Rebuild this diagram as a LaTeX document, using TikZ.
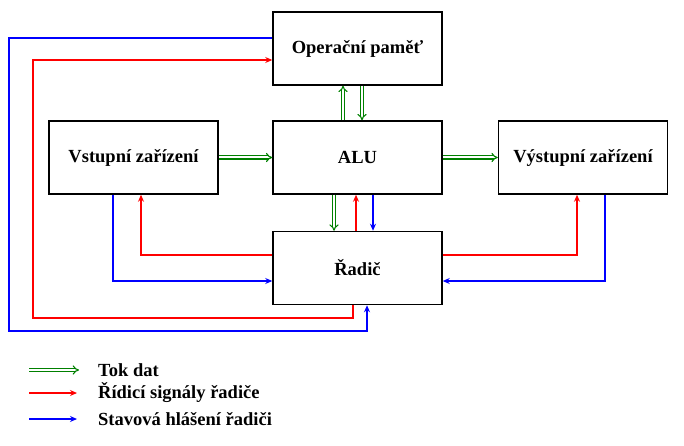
\documentclass[tikz,border=0pt]{standalone}
\usepackage{fontspec}
\setmainfont{Liberation Serif}
\usetikzlibrary{arrows.meta, positioning, calc}
\tikzset{%
	unit/.style={draw, line width=1.5pt, rectangle, minimum width=169pt, minimum height=73pt,%
		inner sep=0pt, font=\bfseries\fontsize{18.5}{22}\selectfont},
	legtext/.style={anchor=west, inner sep=0pt, font=\bfseries\fontsize{18.5}{22}\selectfont},
	data/.style={draw=green!50!black, double=white, double distance=2pt, line width=1.1pt, -{Implies}},
	ctrl/.style={draw=red, line width=1.5pt, -{Stealth[length=7pt, width=6pt]}},
	stat/.style={draw=blue, line width=1.5pt, -{Stealth[length=7pt, width=6pt]}}
}
\begin{document}
\begin{tikzpicture}[x=1pt, y=-1pt]
	\useasboundingbox (0,0) rectangle (684,446);
	\node[unit] (op) at (357.5,48.5) {Operační paměť};
	\node[unit] (alu) at (357.5,157.5) {ALU};
	\node[unit] (vst) at (133.5,157.5) {Vstupní zařízení};
	\node[unit] (vys) at (583,157.5) {Výstupní zařízení};
	\node[unit] (ctl) at (357.5,268) {Řadič};
	\coordinate (outerB) at (9,331);
	\coordinate (outerR) at (33,318);

	% data flow
	\draw[data] (vst.east) to (alu.west);
	\draw[data] (alu.east) to (vys.west);
	\draw[data] ([xshift=-14.5pt]alu.north) to ([xshift=-14.5pt]op.south);
	\draw[data] ([xshift=4.5pt]op.south) to ([xshift=4.5pt]alu.north);
	\draw[data] ([xshift=-23.5pt]alu.south) to ([xshift=-23.5pt]ctl.north);

	% control signals
	\draw[ctrl] ([xshift=-1.5pt]ctl.north) to ([xshift=-1.5pt]alu.south);
	\draw[ctrl] ([yshift=13pt]ctl.west) -| ([xshift=7.5pt]vst.south);
	\draw[ctrl] ([yshift=13pt]ctl.east) -| ([xshift=-6pt]vys.south);
	\draw[ctrl] ([xshift=-4.5pt]ctl.south) |- (outerR) |- ([yshift=-11.5pt]op.west);

	% status reports
	\draw[stat] ([xshift=15.5pt]alu.south) to ([xshift=15.5pt]ctl.north);
	\draw[stat] ([xshift=-20.5pt]vst.south) |- ([yshift=-13pt]ctl.west);
	\draw[stat] ([xshift=22pt]vys.south) |- ([yshift=-13pt]ctl.east);
	\draw[stat] ([yshift=10.5pt]op.west) -| (outerB) -| ([xshift=9.5pt]ctl.south);

	% legend
	\coordinate (g1) at (29,370);
	\coordinate (g2) at (79,370);
	\coordinate (r1) at (29,393);
	\coordinate (r2) at (77,393);
	\coordinate (b1) at (29,419);
	\coordinate (b2) at (77,419);
	\draw[data] (g1) to (g2);
	\draw[ctrl] (r1) to (r2);
	\draw[stat] (b1) to (b2);
	\node[legtext] (lg) at (98,370) {Tok dat};
	\node[legtext] (lr) at (98,393) {Řídicí signály řadiče};
	\node[legtext] (lb) at (98,419) {Stavová hlášení řadiči};
\end{tikzpicture}
\end{document}
